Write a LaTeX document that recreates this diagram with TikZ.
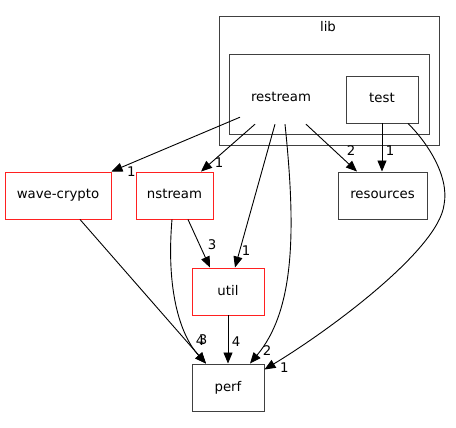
\documentclass[tikz,border=0pt]{standalone}
\usepackage{fontspec}
\setmainfont{DejaVu Sans}
\usetikzlibrary{arrows.meta}
\definecolor{grey25}{HTML}{404040}
\definecolor{extred}{HTML}{FF2020}

\begin{document}
\begin{tikzpicture}[x=1pt,y=-1pt,>={Triangle[length=11pt,width=9pt]},
  every node/.style={font=\fontsize{13.3}{15}\selectfont,text height=9.5pt,text depth=2.5pt},
  dir node/.style={rectangle,draw=grey25,line width=0.95pt,inner sep=0pt,minimum height=47pt},
  ext node/.style={dir node,draw=extred},
  cluster/.style={rectangle,draw=grey25,line width=0.95pt,inner sep=0pt},
  dep/.style={->,line width=0.9pt},
  num/.style={inner sep=0pt}]

  \useasboundingbox (0,0) rectangle (456,428);

  % directories
  \node[cluster,minimum width=220pt,minimum height=129pt] (lib) at (329,80.5) {};
  \node (libname) at (328,28) {lib};
  \node[cluster,minimum width=200pt,minimum height=80pt] (restreamdir) at (329,94) {};
  \node[minimum width=96pt,minimum height=52pt,inner sep=0pt] (restream) at (281,98) {restream};
  \node[dir node,minimum width=72pt] (test) at (382,99.5) {test};
  \node[ext node,minimum width=106pt] (wavecrypto) at (58,195.5) {wave-crypto};
  \node[ext node,minimum width=77pt] (nstream) at (174.5,195.5) {nstream};
  \node[dir node,minimum width=89pt] (resources) at (382.5,195.5) {resources};
  \node[ext node,minimum width=72pt] (util) at (228,291.5) {util};
  \node[dir node,minimum width=72pt] (perf) at (228,387.5) {perf};

  % dependencies
  \draw[dep] ([xshift=-41pt,yshift=7pt]restream.south) -- (wavecrypto.north east)
    node[num,xshift=20pt,yshift=-1pt] {1};
  \draw[dep] ([xshift=-26pt]restream.south) -- ([xshift=26.5pt]nstream.north)
    node[num,xshift=18pt,yshift=8pt] {1};
  \draw[dep] ([xshift=-6pt]restream.south) -- ([xshift=7pt]util.north)
    node[num,xshift=11pt,yshift=16pt] {1};
  \draw[dep] ([xshift=4pt]restream.south) .. controls (296,230) and (295,310) .. ([xshift=22pt]perf.north)
    node[num,xshift=17pt,yshift=12pt] {2};
  \draw[dep] ([xshift=25pt]restream.south) -- ([xshift=-25.5pt]resources.north)
    node[num,xshift=-6pt,yshift=20pt] {2};
  \draw[dep] (test.south) -- (test.south |- resources.north)
    node[num,xshift=8pt,yshift=20pt] {1};
  \draw[dep] ([xshift=26pt]test.south) .. controls (425,140) and (450,175) .. (444,205)
    .. controls (438,250) and (330,330) .. ([yshift=-6pt]perf.north east)
    node[num,xshift=20pt,yshift=1pt] {1};
  \draw[dep] ([xshift=22pt]wavecrypto.south) -- ([xshift=-22pt]perf.north)
    node[num,xshift=-6pt,yshift=22pt] {4};
  \draw[dep] ([xshift=-2.5pt]nstream.south) .. controls (166,290) and (180,335) .. ([xshift=-22pt]perf.north)
    node[num,xshift=-3pt,yshift=23pt] {3};
  \draw[dep] ([xshift=13.5pt]nstream.south) -- ([xshift=-18pt]util.north)
    node[num,xshift=2pt,yshift=22pt] {3};
  \draw[dep] (util.south) -- (perf.north)
    node[num,xshift=8pt,yshift=21pt] {4};
\end{tikzpicture}
\end{document}
